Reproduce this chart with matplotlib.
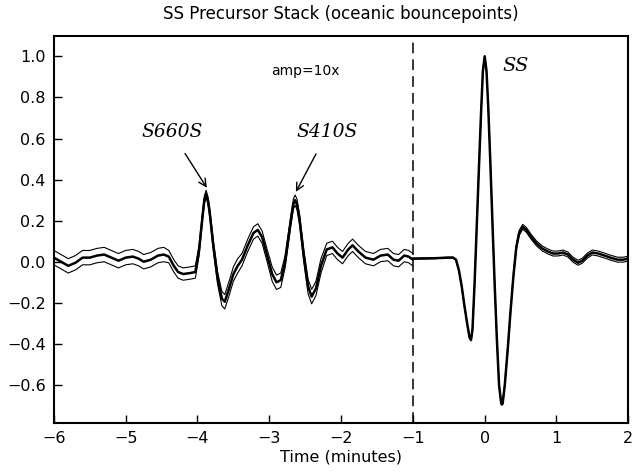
import matplotlib
matplotlib.use("Agg")
import matplotlib.pyplot as plt
import numpy as np

# precursor window (amplified 10x), -6 .. -1 min
t_pre = [-6.0, -5.9, -5.8, -5.7, -5.6, -5.5, -5.4, -5.3, -5.2, -5.1, -5.0, -4.9,
         -4.82, -4.75, -4.65, -4.55, -4.47, -4.40, -4.33, -4.27, -4.2, -4.1, -4.03,
         -3.98, -3.93, -3.905, -3.88, -3.855, -3.83, -3.78, -3.72, -3.66, -3.62, -3.56, -3.50,
         -3.44, -3.38, -3.30, -3.22, -3.16, -3.10, -3.03, -2.96, -2.90, -2.84,
         -2.78, -2.70, -2.665, -2.64, -2.615, -2.58, -2.52, -2.46, -2.41, -2.35, -2.28, -2.20,
         -2.12, -2.05, -1.98, -1.90, -1.84, -1.76, -1.66, -1.55, -1.45, -1.35,
         -1.27, -1.20, -1.12, -1.06, -1.0]
amp_pre = [0.02, 0.0, -0.02, -0.005, 0.02, 0.02, 0.03, 0.035, 0.02, 0.005, 0.02, 0.025,
           0.015, 0.0, 0.01, 0.03, 0.035, 0.025, -0.02, -0.05, -0.06, -0.055, -0.05,
           0.05, 0.22, 0.30, 0.33, 0.30, 0.24, 0.08, -0.08, -0.18, -0.195, -0.13, -0.06,
           -0.02, 0.01, 0.08, 0.14, 0.155, 0.12, 0.03, -0.06, -0.10, -0.09,
           0.0, 0.20, 0.28, 0.30, 0.28, 0.21, 0.03, -0.12, -0.17, -0.13, -0.02, 0.06,
           0.07, 0.04, 0.02, 0.06, 0.08, 0.05, 0.02, 0.01, 0.03, 0.035,
           0.01, 0.005, 0.03, 0.025, 0.01]
err_pre = [0.035, 0.035, 0.035, 0.035, 0.035, 0.035, 0.035, 0.035, 0.035, 0.035, 0.035, 0.035,
           0.035, 0.035, 0.035, 0.035, 0.035, 0.03, 0.03, 0.03, 0.03, 0.03, 0.03,
           0.025, 0.02, 0.018, 0.018, 0.018, 0.02, 0.025, 0.03, 0.035, 0.035, 0.035, 0.035,
           0.035, 0.03, 0.03, 0.03, 0.03, 0.03, 0.03, 0.035, 0.035, 0.035,
           0.03, 0.025, 0.025, 0.025, 0.025, 0.025, 0.03, 0.035, 0.035, 0.035, 0.035, 0.03,
           0.03, 0.03, 0.03, 0.03, 0.03, 0.03, 0.03, 0.03, 0.03, 0.03,
           0.03, 0.03, 0.03, 0.03, 0.03]

# main SS phase, -1 .. 2 min
t_ss = [-1.0, -0.7, -0.5, -0.44, -0.40, -0.36, -0.32, -0.28, -0.24, -0.21, -0.19,
        -0.17, -0.14, -0.11, -0.08, -0.05, -0.025, 0.0, 0.025, 0.05, 0.08, 0.11,
        0.14, 0.17, 0.20, 0.23, 0.25, 0.28, 0.32, 0.36, 0.40, 0.44, 0.48, 0.53,
        0.58, 0.65, 0.72, 0.80, 0.88, 0.95, 1.02, 1.09, 1.16, 1.23, 1.30, 1.36,
        1.43, 1.50, 1.58, 1.67, 1.75, 1.85, 1.93, 2.0]
amp_ss = [0.015, 0.017, 0.02, 0.02, 0.01, -0.04, -0.12, -0.22, -0.31, -0.37, -0.38,
          -0.33, -0.10, 0.18, 0.46, 0.73, 0.93, 1.0, 0.93, 0.75, 0.47, 0.17,
          -0.12, -0.38, -0.60, -0.69, -0.69, -0.60, -0.43, -0.24, -0.07, 0.07, 0.14, 0.17,
          0.155, 0.12, 0.09, 0.065, 0.05, 0.04, 0.04, 0.045, 0.035, 0.01, -0.005, 0.005,
          0.03, 0.045, 0.04, 0.03, 0.02, 0.01, 0.01, 0.015]
err_ss = [0.002, 0.002, 0.002, 0.002, 0.002, 0.003, 0.003, 0.003, 0.004, 0.005, 0.006,
          0.005, 0.004, 0.004, 0.004, 0.004, 0.004, 0.004, 0.004, 0.004, 0.004, 0.004,
          0.004, 0.005, 0.006, 0.008, 0.008, 0.008, 0.008, 0.008, 0.01, 0.012, 0.012, 0.012,
          0.012, 0.012, 0.012, 0.012, 0.012, 0.012, 0.012, 0.012, 0.012, 0.012, 0.012, 0.012,
          0.012, 0.012, 0.012, 0.012, 0.012, 0.012, 0.012, 0.012]

plt.rcParams['font.family'] = ['DejaVu Sans']

fig = plt.figure(figsize=(6.34, 4.72), dpi=100)
ax = fig.add_axes([0.085, 0.104, 0.906, 0.82])

for t, a, e in [(t_pre, amp_pre, err_pre), (t_ss, amp_ss, err_ss)]:
    t = np.array(t)
    a = np.array(a)
    e = np.array(e)
    ax.plot(t, a + e, color='black', lw=0.8)
    ax.plot(t, a - e, color='black', lw=0.8)
    ax.plot(t, a, color='black', lw=1.8)

ax.axvline(-1, color='black', lw=1.1, linestyle=(0, (7, 4)))

ax.set_xlim(-6, 2)
ax.set_ylim(-0.785, 1.10)
ax.set_xticks(range(-6, 3))
ax.set_xticklabels(['\u22126', '\u22125', '\u22124', '\u22123', '\u22122', '\u22121', '0', '1', '2'])
yt = [-0.6, -0.4, -0.2, 0.0, 0.2, 0.4, 0.6, 0.8, 1.0]
ax.set_yticks(yt)
ax.set_yticklabels([('%.1f' % v).replace('-', '\u2212') for v in yt])
ax.tick_params(direction='in', length=6, width=1, labelsize=11.5, pad=6)
for s in ax.spines.values():
    s.set_linewidth(1.5)

ax.set_xlabel('Time (minutes)', fontsize=11.5, labelpad=2)
ax.set_title('SS Precursor Stack (oceanic bouncepoints)', fontsize=12, pad=12)

ax.text(-2.5, 0.93, 'amp=10x', fontsize=10, ha='center', va='center')
ax.text(0.43, 0.955, 'SS', fontsize=14, family='DejaVu Serif', style='italic',
        ha='center', va='center')
ax.annotate('S660S', xy=(-3.87, 0.36), xytext=(-4.36, 0.63), fontsize=13.5,
            family='DejaVu Serif', style='italic', ha='center', va='center',
            arrowprops=dict(arrowstyle='->', color='black', lw=1, shrinkA=8, shrinkB=0))
ax.annotate('S410S', xy=(-2.63, 0.34), xytext=(-2.19, 0.63), fontsize=13.5,
            family='DejaVu Serif', style='italic', ha='center', va='center',
            arrowprops=dict(arrowstyle='->', color='black', lw=1, shrinkA=8, shrinkB=0))

fig.savefig('out.png', dpi=100)
